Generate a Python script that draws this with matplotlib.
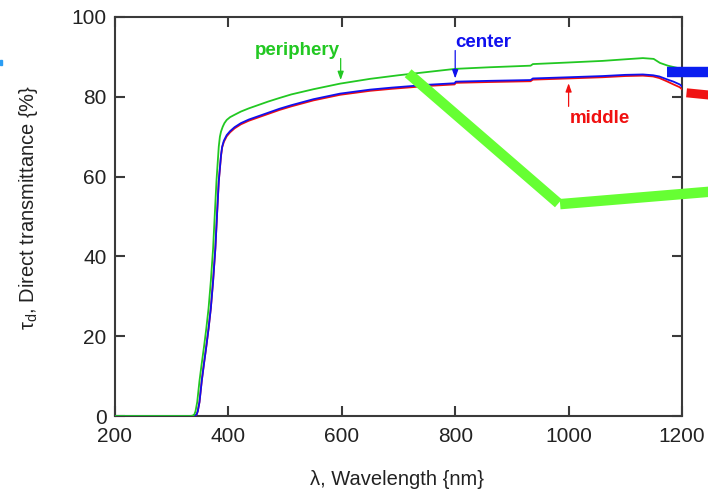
import matplotlib
matplotlib.use("Agg")
import matplotlib.pyplot as plt
from matplotlib.patches import Rectangle

plt.rcParams["font.family"] = ["Liberation Sans", "DejaVu Sans"]
plt.rcParams["mathtext.fontset"] = "custom"
plt.rcParams["mathtext.rm"] = "Liberation Sans"
plt.rcParams["mathtext.it"] = "Liberation Sans:italic"

# Direct transmittance spectra of the lens at three radial positions
wl_periphery = [200, 333, 337, 340, 342, 345, 349, 353, 357, 361, 365, 369, 373,
                376, 379, 383, 385, 387, 390, 393, 397, 403, 411, 422, 436, 452,
                470, 490, 511, 550, 597, 650, 700, 750, 800, 860, 933, 937, 1000,
                1060, 1100, 1131, 1150, 1161, 1175, 1190, 1200]
tau_periphery = [0, 0, 0.1, 0.4, 1.2, 3.5, 8.8, 13.2, 17.4, 21.9, 27.0, 33.8, 42.0,
                 50.6, 59.0, 67.5, 70.0, 71.3, 72.5, 73.4, 74.2, 74.9, 75.5, 76.3, 77.1, 77.9,
                 78.8, 79.7, 80.6, 81.9, 83.3, 84.5, 85.4, 86.2, 87.0, 87.4, 87.8, 88.2, 88.6,
                 89.0, 89.4, 89.7, 89.5, 88.5, 87.8, 87.3, 87.0]

wl_center = [200, 337, 341, 344, 346, 349, 353, 357, 361, 365, 369, 373, 377,
             380, 383, 387, 389, 392, 397, 403, 411, 422, 436, 452, 470, 490, 511,
             550, 597, 650, 688, 750, 799, 801, 860, 933, 937, 1000, 1060, 1100,
             1131, 1149, 1160, 1173, 1185, 1196, 1200]
tau_center = [0, 0, 0.1, 0.4, 1.2, 3.5, 8.8, 13.2, 17.4, 21.9, 27.0, 33.8, 42.0,
              50.6, 58.8, 65.4, 67.5, 69.0, 70.4, 71.4, 72.4, 73.4, 74.3, 75.1, 76.0, 77.0, 77.9,
              79.4, 80.8, 81.8, 82.3, 83.0, 83.4, 83.8, 84.0, 84.2, 84.6, 84.9, 85.2, 85.5,
              85.6, 85.4, 85.1, 84.4, 83.8, 83.1, 82.6]

wl_middle = wl_center
tau_middle = [0, 0, 0.1, 0.4, 1.2, 3.5, 8.8, 13.2, 17.4, 21.9, 27.0, 33.8, 42.0,
              50.6, 58.8, 65.2, 67.3, 68.7, 70.1, 71.1, 72.1, 73.1, 74.0, 74.8, 75.7, 76.7, 77.6,
              79.1, 80.5, 81.5, 82.0, 82.7, 83.1, 83.5, 83.7, 83.9, 84.3, 84.6, 84.9, 85.2,
              85.3, 85.1, 84.7, 83.9, 83.1, 82.4, 81.9]

# Annotation anchors (wavelength, transmittance)
label_periphery = (447, 91.5)
arrow_periphery = (598, 89.6, 84.2)
label_center = (800, 93.6)
arrow_center = (800, 91.6, 84.6)
label_middle = (1002, 74.6)
arrow_middle = (1000, 77.6, 83.4)

# Overlaid marker strokes
green_stroke_wl = [717, 982]
green_stroke_tau = [85.9, 53.3]
green_stroke2_wl = [985, 1265]
green_stroke2_tau = [53.1, 56.4]
blue_stroke_wl = [1173, 1265]
blue_stroke_tau = [86.3, 86.3]
red_stroke_wl = [1208, 1265]
red_stroke_tau = [81.0, 80.2]

GREEN = "#22c822"
BLUE = "#1010ee"
RED = "#f01010"
INK = "#222222"

fig = plt.figure(figsize=(7.08, 4.95), dpi=100)
ax = fig.add_axes([115 / 708, 1 - 416 / 495, 567 / 708, 399 / 495])

ax.plot(wl_middle, tau_middle, color=RED, lw=1.3, zorder=3)
ax.plot(wl_center, tau_center, color=BLUE, lw=1.3, zorder=3)
ax.plot(wl_periphery, tau_periphery, color=GREEN, lw=1.3, zorder=3)

ax.set_xlim(200, 1200)
ax.set_ylim(0, 100)
ax.set_xticks([200, 400, 600, 800, 1000, 1200])
ax.set_yticks([0, 20, 40, 60, 80, 100])

spine_col = "#3a3a3a"
for s in ax.spines.values():
    s.set_linewidth(1.5)
    s.set_color(spine_col)
ax.tick_params(direction="in", length=7, width=1.5, color=spine_col,
               top=True, right=True, labelsize=15, labelcolor=INK)
ax.tick_params(axis="x", pad=8)
ax.tick_params(axis="y", pad=6)

ax.set_xlabel("λ, Wavelength {nm}", fontsize=14.5, color=INK)
ax.xaxis.label.set_verticalalignment("top")
ax.xaxis.set_label_coords(0.497, -0.135)
ax.set_ylabel(r"τ$_\mathrm{d}$, Direct transmittance {%}", fontsize=14.5, color=INK)
ax.yaxis.label.set_verticalalignment("center")
ax.yaxis.set_label_coords(-0.153, 0.524)

akw = dict(arrowstyle="-|>,head_length=0.5,head_width=0.18", lw=0.9,
           shrinkA=0, shrinkB=0)
tkw = dict(fontsize=13.5, fontweight="bold", ha="left", va="center")
ax.text(*label_periphery, "periphery", color=GREEN, **tkw)
ax.annotate("", xy=(arrow_periphery[0], arrow_periphery[2]),
            xytext=(arrow_periphery[0], arrow_periphery[1]),
            arrowprops=dict(color=GREEN, **akw))
ax.text(*label_center, "center", color=BLUE, **tkw)
ax.annotate("", xy=(arrow_center[0], arrow_center[2]),
            xytext=(arrow_center[0], arrow_center[1]),
            arrowprops=dict(color=BLUE, **akw))
ax.text(*label_middle, "middle", color=RED, **tkw)
ax.annotate("", xy=(arrow_middle[0], arrow_middle[2]),
            xytext=(arrow_middle[0], arrow_middle[1]),
            arrowprops=dict(color=RED, **akw))

ax.plot(green_stroke_wl, green_stroke_tau, color="#66ff33", lw=7.5,
        solid_capstyle="butt", clip_on=False, zorder=5)
ax.plot(green_stroke2_wl, green_stroke2_tau, color="#66ff33", lw=7.5,
        solid_capstyle="butt", clip_on=False, zorder=5)
ax.plot(blue_stroke_wl, blue_stroke_tau, color="#0a1ef0", lw=7.5,
        solid_capstyle="butt", clip_on=False, zorder=5)
ax.plot(red_stroke_wl, red_stroke_tau, color="#f01414", lw=6.5,
        solid_capstyle="butt", clip_on=False, zorder=5)

# small edge marker on the left margin
fig.patches.append(Rectangle((0, 1 - 65 / 495), 2 / 708, 5 / 495,
                             transform=fig.transFigure, color="#2a9df4"))

fig.savefig("out.png", dpi=100)
